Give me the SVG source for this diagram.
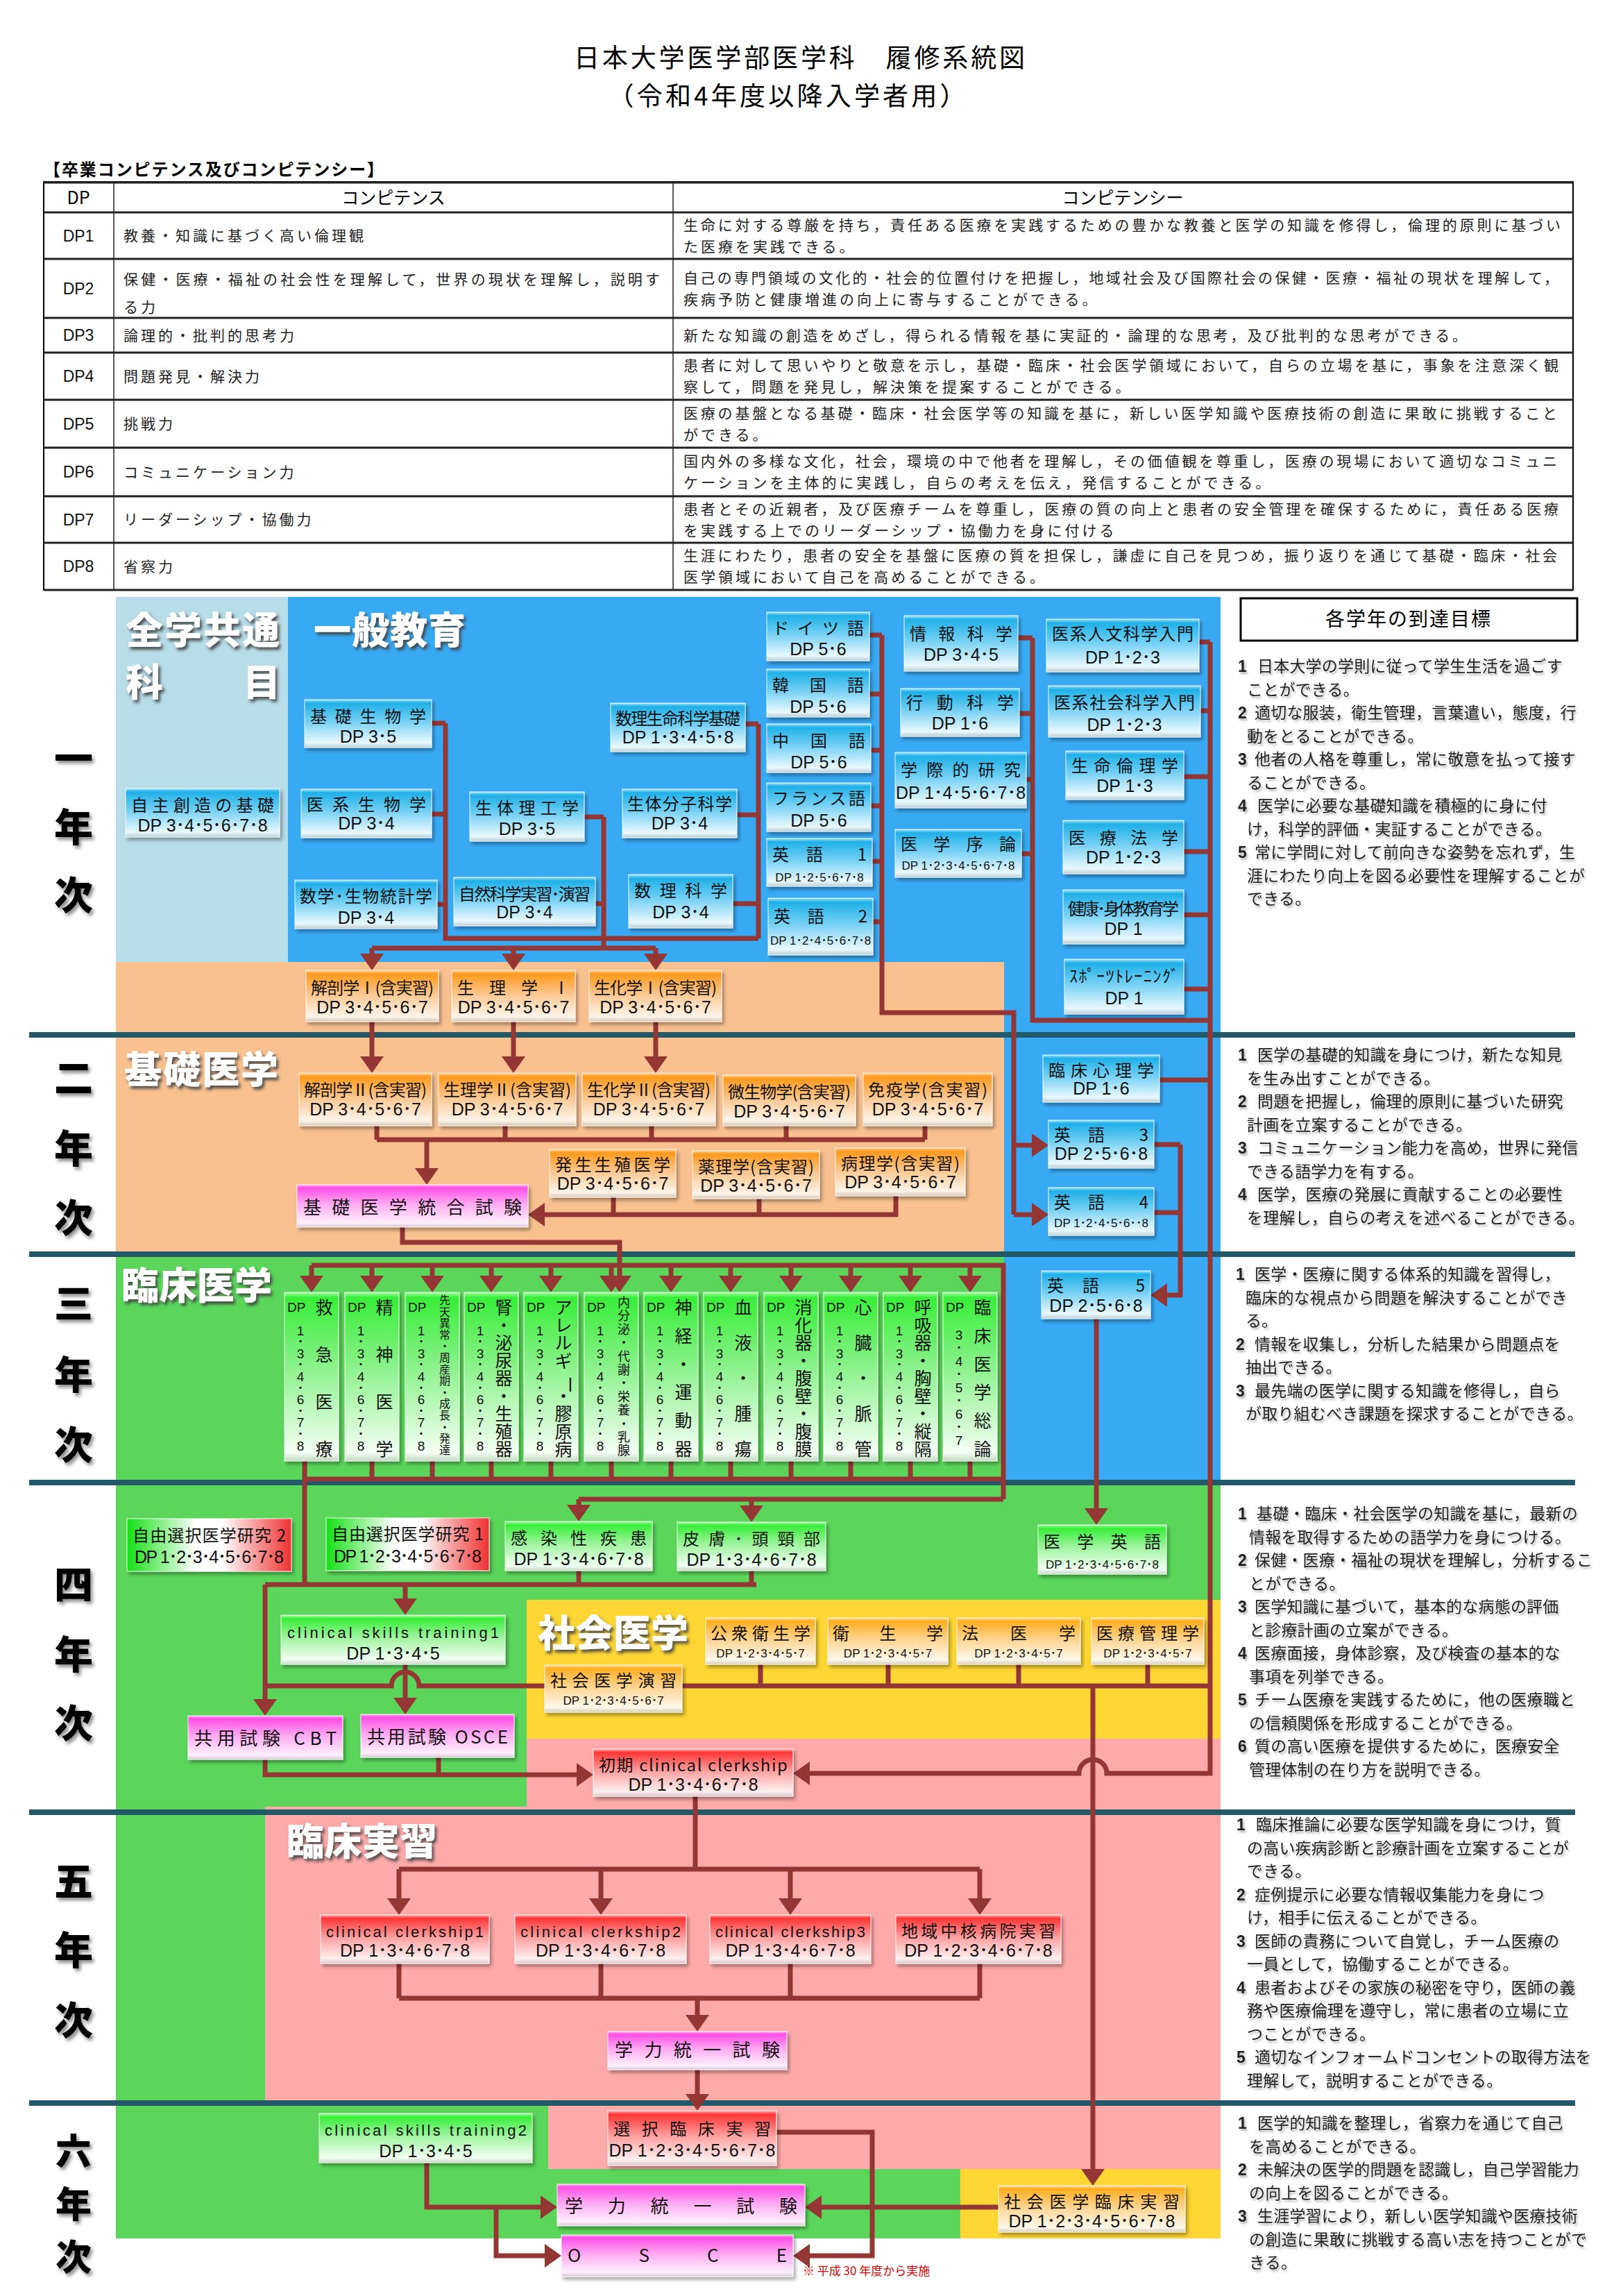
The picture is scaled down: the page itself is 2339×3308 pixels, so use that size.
<svg xmlns="http://www.w3.org/2000/svg" width="2339" height="3308" viewBox="0 0 2339 3308">
<defs>
<style>
.jp{font-family:"Noto Sans CJK JP",sans-serif}
.ttl{font-family:"Noto Sans CJK JP",sans-serif;font-size:37px;text-anchor:middle;fill:#000}
.tb{font-family:"Noto Sans CJK JP",sans-serif;font-size:21px;letter-spacing:4px;fill:#222}
.th{font-family:"Noto Sans CJK JP",sans-serif;font-size:25px;text-anchor:middle;fill:#000}
.tdp{font-family:"Liberation Sans",sans-serif;font-size:23px;text-anchor:middle;fill:#111}
.nm{font-family:"Noto Sans CJK JP",sans-serif;font-size:24px;text-anchor:middle;fill:#111}
.en{font-family:"Liberation Sans",sans-serif;font-size:22px;text-anchor:middle;fill:#111}
.dp{font-family:"Liberation Sans","Noto Sans CJK JP",sans-serif;font-size:25px;text-anchor:middle;fill:#111}
.dps{font-size:17px}
.ex{font-family:"Noto Sans CJK JP",sans-serif;font-size:26px;text-anchor:middle;fill:#111}
.nb{stroke:#fff;stroke-opacity:.6;stroke-width:1.5;filter:url(#sh)}
.bl{fill:url(#gB)}.or{fill:url(#gO)}.pk{fill:url(#gP)}.gr{fill:url(#gG)}.gt{fill:url(#gGT)}.rd{fill:url(#gR)}.ye{fill:url(#gY)}.fl{fill:url(#gF)}
.dpv{font-family:"Liberation Sans",sans-serif;font-size:19px;fill:#111}
.vn{font-family:"Liberation Sans","Noto Sans CJK JP",sans-serif;font-size:19px;text-anchor:middle;dominant-baseline:central;fill:#111}
.vc{font-family:"Noto Sans CJK JP",sans-serif;font-size:25px;text-anchor:middle;dominant-baseline:central;fill:#111}
.vs{font-size:16px}.vm{font-size:18px}
.yr{font-family:"Noto Sans CJK JP",sans-serif;font-weight:900;font-size:56px;text-anchor:middle;dominant-baseline:central;fill:#000;filter:url(#ysh)}
.y6{font-size:52px}
.sec{font-family:"Noto Sans CJK JP",sans-serif;font-weight:900;font-size:54px;fill:#fff;filter:url(#tsh)}
.c{fill:none;stroke:#943634;stroke-width:7}
.a{marker-end:url(#ar)}
.gl{font-family:"Noto Sans CJK JP",sans-serif;font-size:23px;letter-spacing:.2px;fill:#222}
.gn{font-family:"Liberation Sans",sans-serif;font-weight:bold;font-size:23px}
</style>
<linearGradient id="gB" x1="0" y1="0" x2="0" y2="1"><stop offset="0" stop-color="#9fe3fa"/><stop offset="0.07" stop-color="#1fb0e8"/><stop offset="0.45" stop-color="#74d0f4"/><stop offset="0.9" stop-color="#eaf9ff"/><stop offset="1" stop-color="#b9ccd4"/></linearGradient>
<linearGradient id="gO" x1="0" y1="0" x2="0" y2="1"><stop offset="0" stop-color="#ffd199"/><stop offset="0.07" stop-color="#ff9a1c"/><stop offset="0.45" stop-color="#fbc58c"/><stop offset="0.9" stop-color="#fff5ea"/><stop offset="1" stop-color="#d6c6b6"/></linearGradient>
<linearGradient id="gP" x1="0" y1="0" x2="0" y2="1"><stop offset="0" stop-color="#ffa8f4"/><stop offset="0.07" stop-color="#ff4fe6"/><stop offset="0.45" stop-color="#ffa9f2"/><stop offset="0.9" stop-color="#fff0fd"/><stop offset="1" stop-color="#d8c4d4"/></linearGradient>
<linearGradient id="gG" x1="0" y1="0" x2="0" y2="1"><stop offset="0" stop-color="#a8ffa8"/><stop offset="0.07" stop-color="#38ee38"/><stop offset="0.45" stop-color="#9ef49e"/><stop offset="0.9" stop-color="#f2fff2"/><stop offset="1" stop-color="#c4d8c4"/></linearGradient>
<linearGradient id="gGT" x1="0" y1="0" x2="0" y2="1"><stop offset="0" stop-color="#a8ffa8"/><stop offset="0.03" stop-color="#38ee38"/><stop offset="0.35" stop-color="#78f078"/><stop offset="0.95" stop-color="#f4fff4"/><stop offset="1" stop-color="#c4d8c4"/></linearGradient>
<linearGradient id="gR" x1="0" y1="0" x2="0" y2="1"><stop offset="0" stop-color="#ffaaaa"/><stop offset="0.07" stop-color="#ff3535"/><stop offset="0.45" stop-color="#ff9d9d"/><stop offset="0.9" stop-color="#fff0f0"/><stop offset="1" stop-color="#d8c4c4"/></linearGradient>
<linearGradient id="gY" x1="0" y1="0" x2="0" y2="1"><stop offset="0" stop-color="#ffe0a0"/><stop offset="0.07" stop-color="#ffae1e"/><stop offset="0.45" stop-color="#ffd38e"/><stop offset="0.9" stop-color="#fff9ec"/><stop offset="1" stop-color="#d8ccb8"/></linearGradient>
<linearGradient id="gF" x1="0" y1="0" x2="1" y2="0"><stop offset="0" stop-color="#14e014"/><stop offset="0.42" stop-color="#ffffff"/><stop offset="0.58" stop-color="#ffffff"/><stop offset="1" stop-color="#f03030"/></linearGradient>
<filter id="sh" x="-5%" y="-5%" width="115%" height="125%"><feDropShadow dx="3" dy="4" stdDeviation="2.5" flood-color="#000" flood-opacity="0.35"/></filter>
<filter id="tsh" x="-5%" y="-10%" width="115%" height="130%"><feDropShadow dx="3" dy="4" stdDeviation="2" flood-color="#404040" flood-opacity="0.9"/></filter>
<filter id="ysh" x="-10%" y="-10%" width="130%" height="130%"><feDropShadow dx="3" dy="4" stdDeviation="2.5" flood-color="#000" flood-opacity="0.45"/></filter>
<filter id="gsh" x="-2%" y="-5%" width="105%" height="115%"><feDropShadow dx="2" dy="3" stdDeviation="1.5" flood-color="#000" flood-opacity="0.3"/></filter>
<marker id="ar" markerUnits="userSpaceOnUse" markerWidth="24" markerHeight="34" viewBox="0 0 24 34" refX="14" refY="17" orient="auto"><path d="M0,0 L24,17 L0,34 Z" fill="#943634"/></marker>
</defs>
<rect width="2339" height="3308" fill="#fff"/>

<g id="title">
<text class="ttl" x="1152" y="97" textLength="650">日本大学医学部医学科　履修系統図</text>
<text class="ttl" x="1134" y="152" textLength="515">（令和4年度以降入学者用）</text>
<text class="jp" x="63" y="253" font-size="24" font-weight="bold" textLength="490">【卒業コンピテンス及びコンピテンシー】</text>
</g>

<g id="table">
<rect x="63" y="262" width="2204" height="588" fill="none" stroke="#000" stroke-width="2"/>
<g stroke="#222" stroke-width="3">
<line x1="63" y1="263" x2="2267" y2="263"/>
<line x1="63" y1="306" x2="2267" y2="306"/>
<line x1="63" y1="373" x2="2267" y2="373"/>
<line x1="63" y1="458" x2="2267" y2="458"/>
<line x1="63" y1="508" x2="2267" y2="508"/>
<line x1="63" y1="576" x2="2267" y2="576"/>
<line x1="63" y1="645" x2="2267" y2="645"/>
<line x1="63" y1="715" x2="2267" y2="715"/>
<line x1="63" y1="782" x2="2267" y2="782"/>
<line x1="63" y1="850" x2="2267" y2="850"/>
</g>
<g stroke="#222" stroke-width="1.5">
<line x1="164" y1="262" x2="164" y2="850"/>
<line x1="970" y1="262" x2="970" y2="850"/>
</g>
<text class="th" x="113" y="294">DP</text>
<text class="th" x="567" y="294">コンピテンス</text>
<text class="th" x="1618" y="294">コンピテンシー</text>
<text class="tdp" x="113" y="348">DP1</text>
<text class="tdp" x="113" y="424">DP2</text>
<text class="tdp" x="113" y="491">DP3</text>
<text class="tdp" x="113" y="550">DP4</text>
<text class="tdp" x="113" y="619">DP5</text>
<text class="tdp" x="113" y="688">DP6</text>
<text class="tdp" x="113" y="757">DP7</text>
<text class="tdp" x="113" y="824">DP8</text>
<text class="tb" x="178" y="347">教養・知識に基づく高い倫理観</text>
<text class="tb" x="178" y="410" textLength="777">保健・医療・福祉の社会性を理解して，世界の現状を理解し，説明す</text>
<text class="tb" x="178" y="450">る力</text>
<text class="tb" x="178" y="490.5">論理的・批判的思考力</text>
<text class="tb" x="178" y="549.5">問題発見・解決力</text>
<text class="tb" x="178" y="618">挑戦力</text>
<text class="tb" x="178" y="687.5">コミュニケーション力</text>
<text class="tb" x="178" y="756">リーダーシップ・協働力</text>
<text class="tb" x="178" y="823.5">省察力</text>
<text class="tb" x="985" y="331.5" textLength="1268">生命に対する尊厳を持ち，責任ある医療を実践するための豊かな教養と医学の知識を修得し，倫理的原則に基づい</text>
<text class="tb" x="985" y="362.5">た医療を実践できる。</text>
<text class="tb" x="985" y="407.5" textLength="1265">自己の専門領域の文化的・社会的位置付けを把握し，地域社会及び国際社会の保健・医療・福祉の現状を理解して，</text>
<text class="tb" x="985" y="438.5">疾病予防と健康増進の向上に寄与することができる。</text>
<text class="tb" x="985" y="490.5" textLength="1133">新たな知識の創造をめざし，得られる情報を基に実証的・論理的な思考，及び批判的な思考ができる。</text>
<text class="tb" x="985" y="534" textLength="1265">患者に対して思いやりと敬意を示し，基礎・臨床・社会医学領域において，自らの立場を基に，事象を注意深く観</text>
<text class="tb" x="985" y="565">察して，問題を発見し，解決策を提案することができる。</text>
<text class="tb" x="985" y="602.5" textLength="1263">医療の基盤となる基礎・臨床・社会医学等の知識を基に，新しい医学知識や医療技術の創造に果敢に挑戦すること</text>
<text class="tb" x="985" y="633.5">ができる。</text>
<text class="tb" x="985" y="672" textLength="1263">国内外の多様な文化，社会，環境の中で他者を理解し，その価値観を尊重し，医療の現場において適切なコミュニ</text>
<text class="tb" x="985" y="703">ケーションを主体的に実践し，自らの考えを伝え，発信することができる。</text>
<text class="tb" x="985" y="740.5" textLength="1265">患者とその近親者，及び医療チームを尊重し，医療の質の向上と患者の安全管理を確保するために，責任ある医療</text>
<text class="tb" x="985" y="771.5">を実践する上でのリーダーシップ・協働力を身に付ける</text>
<text class="tb" x="985" y="808" textLength="1263">生涯にわたり，患者の安全を基盤に医療の質を担保し，謙虚に自己を見つめ，振り返りを通じて基礎・臨床・社会</text>
<text class="tb" x="985" y="839">医学領域において自己を高めることができる。</text>
</g>

<g id="backgrounds">
<rect x="167" y="1807" width="1592" height="1418" fill="#5bd65b"/>
<rect x="415" y="860" width="1344" height="526" fill="#38aaf4"/>
<rect x="1447" y="1386" width="312" height="751" fill="#38aaf4"/>
<rect x="167" y="860" width="248" height="526" fill="#b7dde8"/>
<rect x="167" y="1386" width="1280" height="421" fill="#f9c190"/>
<rect x="759" y="2305" width="1000" height="200" fill="#ffd633"/>
<rect x="759" y="2505" width="1000" height="98" fill="#ffaaaa"/>
<rect x="382" y="2603" width="1377" height="428" fill="#ffaaaa"/>
<rect x="790" y="3031" width="969" height="94" fill="#ffaaaa"/>
<rect x="1384" y="3125" width="375" height="100" fill="#ffd633"/>
</g>

<g id="year-lines" stroke="#215968" stroke-width="8">
<line x1="42" y1="1491" x2="2270" y2="1491"/>
<line x1="42" y1="1807" x2="2270" y2="1807"/>
<line x1="42" y1="2136" x2="2270" y2="2136"/>
<line x1="42" y1="2611" x2="2270" y2="2611"/>
<line x1="42" y1="3030" x2="2270" y2="3030"/>
</g>

<g id="year-labels">
<text class="yr" x="106" y="1088">一</text><text class="yr" x="106" y="1187">年</text><text class="yr" x="106" y="1285">次</text>
<text class="yr" x="106" y="1548">二</text><text class="yr" x="106" y="1650">年</text><text class="yr" x="106" y="1750">次</text>
<text class="yr" x="106" y="1873">三</text><text class="yr" x="106" y="1976">年</text><text class="yr" x="106" y="2077">次</text>
<text class="yr" x="106" y="2278">四</text><text class="yr" x="106" y="2379">年</text><text class="yr" x="106" y="2478">次</text>
<text class="yr" x="106" y="2706">五</text><text class="yr" x="106" y="2805">年</text><text class="yr" x="106" y="2906">次</text>
<text class="yr y6" x="106" y="3096">六</text><text class="yr y6" x="106" y="3172">年</text><text class="yr y6" x="106" y="3248">次</text>
</g>

<g id="section-labels">
<text class="sec" x="181" y="928" textLength="222">全学共通</text>
<text class="sec" x="181" y="1003">科</text>
<text class="sec" x="350" y="1003">目</text>
<text class="sec" x="452" y="928" textLength="219">一般教育</text>
<text class="sec" x="179" y="1561" textLength="222">基礎医学</text>
<text class="sec" x="175" y="1872" textLength="217">臨床医学</text>
<text class="sec" x="775" y="2373" textLength="217">社会医学</text>
<text class="sec" x="413" y="2673" textLength="217">臨床実習</text>
</g>

<g id="connectors" class="c">
<path d="M622,1042H642M622,1173H642M630,1303H642M642,1042V1352H1093"/>
<path d="M1074,1043H1093M1062,1174H1093M1056,1302H1093M1093,1043V1352"/>
<path d="M842,1177H870M858,1302H870M870,1177V1366M536,1366H945"/>
<path class="a" d="M536,1366V1388"/>
<path class="a" d="M740,1366V1388"/>
<path class="a" d="M945,1366V1388"/>
<path d="M1253,915H1271M1253,1000H1271M1255,1081H1271M1255,1161H1271M1257,1241H1271M1258,1328H1271M1271,915V1459H1461V1750"/>
<path class="a" d="M1461,1650H1501"/>
<path class="a" d="M1461,1750H1501"/>
<path d="M1467,919H1488M1469,1028H1488M1479,1123H1488M1472,1230H1488M1488,919V1470H1744"/>
<path d="M1728,925H1744M1730,1024H1744M1706,1119H1744M1706,1227H1744M1706,1318H1744M1706,1425H1744M1671,1556H1744"/>
<path class="a" d="M1744,925V2555H1595A20,20 0 0 0 1555,2555H1153"/>
<path d="M1663,1649H1701M1663,1747H1701"/>
<path class="a" d="M1701,1649V1866H1668"/>
<path class="a" d="M1580,1900V2187"/>
<path class="a" d="M536,1472V1536"/>
<path class="a" d="M740,1472V1536"/>
<path class="a" d="M945,1472V1536"/>
<path d="M543,1622V1642M728,1622V1642M939,1622V1642M1133,1622V1642M1333,1622V1642M543,1642H1333"/>
<path class="a" d="M615,1642V1697"/>
<path d="M884,1725V1750M1094,1727V1750"/>
<path class="a" d="M1291,1723V1750H771"/>
<path class="a" d="M580,1768V1790H893V1852"/>
<path d="M449,1823H1446V2160"/>
<path class="a" d="M449,1823V1852"/><path class="a" d="M536,1823V1852"/><path class="a" d="M623,1823V1852"/><path class="a" d="M708,1823V1852"/><path class="a" d="M794,1823V1852"/><path class="a" d="M881,1823V1852"/><path class="a" d="M967,1823V1852"/><path class="a" d="M1053,1823V1852"/><path class="a" d="M1140,1823V1852"/><path class="a" d="M1226,1823V1852"/><path class="a" d="M1312,1823V1852"/><path class="a" d="M1398,1823V1852"/>
<path d="M439,2105V2283M536,2105V2131M623,2105V2131M708,2105V2131M794,2105V2131M881,2105V2131M967,2105V2131M1053,2105V2131M1140,2105V2131M1226,2105V2131M1312,2105V2131M1398,2105V2131M439,2131H1446"/>
<path d="M834,2160H1446"/>
<path class="a" d="M834,2160V2182"/>
<path class="a" d="M1083,2160V2183"/>
<path d="M382,2283H1090M834,2263V2283M1083,2263V2283"/>
<path class="a" d="M382,2283V2462"/>
<path class="a" d="M584,2283V2317"/>
<path class="a" d="M584,2398V2460"/>
<path d="M382,2429H564A20,20 0 0 1 604,2429H1744M1096,2398V2429M1280,2398V2429M1468,2398V2429M1654,2398V2429"/>
<path class="a" d="M1575,2429V3139"/>
<path class="a" d="M382,2535V2557H845"/>
<path d="M632,2532V2557"/>
<path d="M1002,2588V2693M575,2693H1412"/>
<path class="a" d="M575,2693V2749"/><path class="a" d="M866,2693V2749"/><path class="a" d="M1139,2693V2749"/><path class="a" d="M1412,2693V2749"/>
<path d="M575,2829V2879M866,2829V2879M1139,2829V2879M1412,2829V2879M575,2879H1412"/>
<path class="a" d="M1005,2879V2917"/>
<path class="a" d="M1005,2982V3031"/>
<path class="a" d="M1119,3072H1257V3250H1153"/>
<path class="a" d="M1439,3180H1170"/>
<path class="a" d="M615,3116V3180H793"/>
<path class="a" d="M715,3180V3250H799"/>
</g>

<g id="nodes">
<g id="n-jishu"><rect class="nb bl" x="181" y="1136" width="222" height="70"/><text class="nm" x="292" y="1169" textLength="206">自主創造の基礎</text><text class="dp" x="292" y="1198">DP 3･4･5･6･7･8</text></g>
<g id="n-kisoseibutsu"><rect class="nb bl" x="439" y="1008" width="183" height="69"/><text class="nm" x="530.5" y="1041" textLength="167">基礎生物学</text><text class="dp" x="530.5" y="1070">DP 3･5</text></g>
<g id="n-ikeiseibutsu"><rect class="nb bl" x="434" y="1137" width="188" height="70"/><text class="nm" x="528" y="1168" textLength="172">医系生物学</text><text class="dp" x="528" y="1195">DP 3･4</text></g>
<g id="n-sugaku"><rect class="nb bl" x="425" y="1268" width="205" height="70"/><text class="nm" x="527.5" y="1300" textLength="191">数学･生物統計学</text><text class="dp" x="527.5" y="1331">DP 3･4</text></g>
<g id="n-seitairiko"><rect class="nb bl" x="677" y="1141" width="165" height="71"/><text class="nm" x="759.5" y="1173" textLength="149">生体理工学</text><text class="dp" x="759.5" y="1203">DP 3･5</text></g>
<g id="n-shizen"><rect class="nb bl" x="654" y="1264" width="204" height="70"/><text class="nm" x="756" y="1297" textLength="190">自然科学実習･演習</text><text class="dp" x="756" y="1323">DP 3･4</text></g>
<g id="n-suriseimei"><rect class="nb bl" x="880" y="1013" width="194" height="70"/><text class="nm" x="977" y="1044" textLength="180">数理生命科学基礎</text><text class="dp" x="977" y="1071">DP 1･3･4･5･8</text></g>
<g id="n-seitaibunshi"><rect class="nb bl" x="897" y="1137" width="165" height="70"/><text class="nm" x="979.5" y="1167" textLength="151">生体分子科学</text><text class="dp" x="979.5" y="1195">DP 3･4</text></g>
<g id="n-surikagaku"><rect class="nb bl" x="906" y="1260" width="150" height="77"/><text class="nm" x="981" y="1292" textLength="134">数理科学</text><text class="dp" x="981" y="1323">DP 3･4</text></g>
<g id="n-doitsu"><rect class="nb bl" x="1105" y="882" width="148" height="70"/><text class="nm" x="1179" y="914" textLength="132">ドイツ語</text><text class="dp" x="1179" y="944">DP 5･6</text></g>
<g id="n-kankoku"><rect class="nb bl" x="1105" y="964" width="148" height="69"/><text class="nm" x="1179" y="996" textLength="132">韓国語</text><text class="dp" x="1179" y="1027">DP 5･6</text></g>
<g id="n-chugoku"><rect class="nb bl" x="1105" y="1043" width="150" height="70"/><text class="nm" x="1180" y="1076" textLength="134">中国語</text><text class="dp" x="1180" y="1107">DP 5･6</text></g>
<g id="n-france"><rect class="nb bl" x="1105" y="1128" width="150" height="70"/><text class="nm" x="1180" y="1159" textLength="134">フランス語</text><text class="dp" x="1180" y="1191">DP 5･6</text></g>
<g id="n-eigo1"><rect class="nb bl" x="1105" y="1208" width="152" height="69"/><text class="nm" x="1181" y="1240" textLength="136">英　語　　1</text><text class="dp dps" x="1181" y="1270">DP 1･2･5･6･7･8</text></g>
<g id="n-eigo2"><rect class="nb bl" x="1107" y="1294" width="151" height="82"/><text class="nm" x="1182.5" y="1329" textLength="135">英　語　　2</text><text class="dp dps" x="1182.5" y="1361">DP 1･2･4･5･6･7･8</text></g>
<g id="n-joho"><rect class="nb bl" x="1303" y="887" width="164" height="80"/><text class="nm" x="1385" y="922" textLength="148">情報科学</text><text class="dp" x="1385" y="952">DP 3･4･5</text></g>
<g id="n-kodo"><rect class="nb bl" x="1298" y="992" width="171" height="69"/><text class="nm" x="1383.5" y="1021" textLength="155">行動科学</text><text class="dp" x="1383.5" y="1051">DP 1･6</text></g>
<g id="n-gakusai"><rect class="nb bl" x="1290" y="1084" width="189" height="80"/><text class="nm" x="1384.5" y="1118" textLength="173">学際的研究</text><text class="dp" x="1384.5" y="1151">DP 1･4･5･6･7･8</text></g>
<g id="n-joron"><rect class="nb bl" x="1290" y="1195" width="182" height="69"/><text class="nm" x="1381" y="1225" textLength="166">医学序論</text><text class="dp dps" x="1381" y="1253">DP 1･2･3･4･5･6･7･8</text></g>
<g id="n-jinbun"><rect class="nb bl" x="1508" y="892" width="220" height="76"/><text class="nm" x="1618" y="922" textLength="204">医系人文科学入門</text><text class="dp" x="1618" y="956">DP 1･2･3</text></g>
<g id="n-shakai"><rect class="nb bl" x="1511" y="988" width="219" height="74"/><text class="nm" x="1620.5" y="1021" textLength="203">医系社会科学入門</text><text class="dp" x="1620.5" y="1053">DP 1･2･3</text></g>
<g id="n-rinri"><rect class="nb bl" x="1536" y="1082" width="170" height="70"/><text class="nm" x="1621" y="1112" textLength="154">生命倫理学</text><text class="dp" x="1621" y="1141">DP 1･3</text></g>
<g id="n-hogaku"><rect class="nb bl" x="1532" y="1182" width="174" height="77"/><text class="nm" x="1619" y="1216" textLength="158">医療法学</text><text class="dp" x="1619" y="1244">DP 1･2･3</text></g>
<g id="n-kenko"><rect class="nb bl" x="1532" y="1282" width="174" height="78"/><text class="nm" x="1619" y="1318" textLength="160">健康･身体教育学</text><text class="dp" x="1619" y="1347">DP 1</text></g>
<g id="n-sports"><rect class="nb bl" x="1534" y="1382" width="172" height="79"/><text class="nm" x="1620" y="1415" textLength="158">ｽﾎﾟｰﾂﾄﾚｰﾆﾝｸﾞ</text><text class="dp" x="1620" y="1447">DP 1</text></g>
<g id="n-kaibo1"><rect class="nb or" x="441" y="1398" width="191" height="74"/><text class="nm" x="536.5" y="1432" textLength="177">解剖学Ⅰ(含実習)</text><text class="dp" x="536.5" y="1460">DP 3･4･5･6･7</text></g>
<g id="n-seiri1"><rect class="nb or" x="651" y="1398" width="178" height="74"/><text class="nm" x="740" y="1432" textLength="162">生理学Ⅰ</text><text class="dp" x="740" y="1460">DP 3･4･5･6･7</text></g>
<g id="n-seika1"><rect class="nb or" x="849" y="1398" width="191" height="74"/><text class="nm" x="944.5" y="1432" textLength="177">生化学Ⅰ(含実習)</text><text class="dp" x="944.5" y="1460">DP 3･4･5･6･7</text></g>
<g id="n-kaibo2"><rect class="nb or" x="431" y="1546" width="191" height="76"/><text class="nm" x="526.5" y="1579" textLength="177">解剖学Ⅱ(含実習)</text><text class="dp" x="526.5" y="1607">DP 3･4･5･6･7</text></g>
<g id="n-seiri2"><rect class="nb or" x="632" y="1546" width="198" height="76"/><text class="nm" x="731" y="1579" textLength="184">生理学Ⅱ(含実習)</text><text class="dp" x="731" y="1607">DP 3･4･5･6･7</text></g>
<g id="n-seika2"><rect class="nb or" x="839" y="1546" width="192" height="76"/><text class="nm" x="935" y="1579" textLength="178">生化学Ⅱ(含実習)</text><text class="dp" x="935" y="1607">DP 3･4･5･6･7</text></g>
<g id="n-biseibutsu"><rect class="nb or" x="1042" y="1549" width="191" height="73"/><text class="nm" x="1137.5" y="1582" textLength="177">微生物学(含実習)</text><text class="dp" x="1137.5" y="1610">DP 3･4･5･6･7</text></g>
<g id="n-meneki"><rect class="nb or" x="1244" y="1546" width="186" height="76"/><text class="nm" x="1337" y="1579" textLength="172">免疫学(含実習)</text><text class="dp" x="1337" y="1607">DP 3･4･5･6･7</text></g>
<g id="n-hassei"><rect class="nb or" x="792" y="1656" width="182" height="69"/><text class="nm" x="883" y="1687" textLength="166">発生生殖医学</text><text class="dp" x="883" y="1714">DP 3･4･5･6･7</text></g>
<g id="n-yakuri"><rect class="nb or" x="998" y="1658" width="183" height="69"/><text class="nm" x="1089.5" y="1690" textLength="167">薬理学(含実習)</text><text class="dp" x="1089.5" y="1717">DP 3･4･5･6･7</text></g>
<g id="n-byori"><rect class="nb or" x="1204" y="1654" width="187" height="69"/><text class="nm" x="1297.5" y="1685" textLength="171">病理学(含実習)</text><text class="dp" x="1297.5" y="1712">DP 3･4･5･6･7</text></g>
<g id="n-kisotogo"><rect class="nb pk" x="428" y="1707" width="333" height="61"/><text class="ex" x="594.5" y="1749" textLength="315">基礎医学統合試験</text></g>
<g id="n-rinshoshinri"><rect class="nb bl" x="1503" y="1520" width="168" height="68"/><text class="nm" x="1587" y="1551" textLength="152">臨床心理学</text><text class="dp" x="1587" y="1577">DP 1･6</text></g>
<g id="n-eigo3"><rect class="nb bl" x="1511" y="1614" width="152" height="69"/><text class="nm" x="1587" y="1644" textLength="136">英　語　　3</text><text class="dp" x="1587" y="1671">DP 2･5･6･8</text></g>
<g id="n-eigo4"><rect class="nb bl" x="1511" y="1711" width="152" height="69"/><text class="nm" x="1587" y="1741" textLength="136">英　語　　4</text><text class="dp dps" x="1587" y="1768">DP 1･2･4･5･6･･8</text></g>
<g id="n-eigo5"><rect class="nb bl" x="1501" y="1831" width="157" height="69"/><text class="nm" x="1579.5" y="1861" textLength="141">英　語　　5</text><text class="dp" x="1579.5" y="1890">DP 2･5･6･8</text></g>

<g id="n-kyukyu" transform="translate(410 0)"><rect class="nb gt" x="0" y="1862" width="78" height="243"/><text class="dpv" x="4" y="1890">DP</text><text class="vn" x="23 23 23 23 23 23 23 23 23 23 23" y="1917 1933.6 1950.2 1966.8 1983.4 2000 2016.6 2033.2 2049.8 2066.4 2083">1･3･4･6･7･8</text><text class="vc" x="57 57 57 57" y="1882 1950 2018 2086">救急医療</text></g>
<g id="n-seishin" transform="translate(497 0)"><rect class="nb gt" x="0" y="1862" width="78" height="243"/><text class="dpv" x="4" y="1890">DP</text><text class="vn" x="23 23 23 23 23 23 23 23 23 23 23" y="1917 1933.6 1950.2 1966.8 1983.4 2000 2016.6 2033.2 2049.8 2066.4 2083">1･3･4･6･7･8</text><text class="vc" x="57 57 57 57" y="1882 1950 2018 2086">精神医学</text></g>
<g id="n-sentenijo" transform="translate(584 0)"><rect class="nb gt" x="0" y="1862" width="78" height="243"/><text class="dpv" x="4" y="1890">DP</text><text class="vn" x="23 23 23 23 23 23 23 23 23 23 23" y="1917 1933.6 1950.2 1966.8 1983.4 2000 2016.6 2033.2 2049.8 2066.4 2083">1･3･4･6･7･8</text><text class="vc vs" x="57 57 57 57 57 57 57 57 57 57 57 57 57 57" y="1872 1888.6 1905.2 1921.8 1938.4 1955 1971.6 1988.2 2004.8 2021.4 2038 2054.6 2071.2 2087.8">先天異常・周産期・成長・発達</text></g>
<g id="n-jin" transform="translate(669 0)"><rect class="nb gt" x="0" y="1862" width="78" height="243"/><text class="dpv" x="4" y="1890">DP</text><text class="vn" x="23 23 23 23 23 23 23 23 23 23 23" y="1917 1933.6 1950.2 1966.8 1983.4 2000 2016.6 2033.2 2049.8 2066.4 2083">1･3･4･6･7･8</text><text class="vc" x="57 57 57 57 57 57 57 57 57" y="1882 1907.5 1933 1958.5 1984 2009.5 2035 2060.5 2086">腎・泌尿器・生殖器</text></g>
<g id="n-allergy" transform="translate(755 0)"><rect class="nb gt" x="0" y="1862" width="78" height="243"/><text class="dpv" x="4" y="1890">DP</text><text class="vn" x="23 23 23 23 23 23 23 23 23 23 23" y="1917 1933.6 1950.2 1966.8 1983.4 2000 2016.6 2033.2 2049.8 2066.4 2083">1･3･4･6･7･8</text><text class="vc" x="57 57 57 57 69.5 57 57 57 57" y="1882 1907.5 1933 1958.5 1971.5 2009.5 2035 2060.5 2086" rotate="0 0 0 0 90 0 0 0 0">アレルギー・膠原病</text></g>
<g id="n-naibunpi" transform="translate(842 0)"><rect class="nb gt" x="0" y="1862" width="78" height="243"/><text class="dpv" x="4" y="1890">DP</text><text class="vn" x="23 23 23 23 23 23 23 23 23 23 23" y="1917 1933.6 1950.2 1966.8 1983.4 2000 2016.6 2033.2 2049.8 2066.4 2083">1･3･4･6･7･8</text><text class="vc vm" x="57 57 57 57 57 57 57 57 57 57 57 57" y="1875 1894.4 1913.8 1933.2 1952.6 1972 1991.4 2010.8 2030.2 2049.6 2069 2088.4">内分泌・代謝・栄養・乳腺</text></g>
<g id="n-shinkei" transform="translate(928 0)"><rect class="nb gt" x="0" y="1862" width="78" height="243"/><text class="dpv" x="4" y="1890">DP</text><text class="vn" x="23 23 23 23 23 23 23 23 23 23 23" y="1917 1933.6 1950.2 1966.8 1983.4 2000 2016.6 2033.2 2049.8 2066.4 2083">1･3･4･6･7･8</text><text class="vc" x="57 57 57 57 57 57" y="1882 1922.8 1963.6 2004.4 2045.2 2086">神経・運動器</text></g>
<g id="n-ketsueki" transform="translate(1014 0)"><rect class="nb gt" x="0" y="1862" width="78" height="243"/><text class="dpv" x="4" y="1890">DP</text><text class="vn" x="23 23 23 23 23 23 23 23 23 23 23" y="1917 1933.6 1950.2 1966.8 1983.4 2000 2016.6 2033.2 2049.8 2066.4 2083">1･3･4･6･7･8</text><text class="vc" x="57 57 57 57 57" y="1882 1933 1984 2035 2086">血液・腫瘍</text></g>
<g id="n-shokaki" transform="translate(1101 0)"><rect class="nb gt" x="0" y="1862" width="78" height="243"/><text class="dpv" x="4" y="1890">DP</text><text class="vn" x="23 23 23 23 23 23 23 23 23 23 23" y="1917 1933.6 1950.2 1966.8 1983.4 2000 2016.6 2033.2 2049.8 2066.4 2083">1･3･4･6･7･8</text><text class="vc" x="57 57 57 57 57 57 57 57 57" y="1882 1907.5 1933 1958.5 1984 2009.5 2035 2060.5 2086">消化器・腹壁・腹膜</text></g>
<g id="n-shinzo" transform="translate(1187 0)"><rect class="nb gt" x="0" y="1862" width="78" height="243"/><text class="dpv" x="4" y="1890">DP</text><text class="vn" x="23 23 23 23 23 23 23 23 23 23 23" y="1917 1933.6 1950.2 1966.8 1983.4 2000 2016.6 2033.2 2049.8 2066.4 2083">1･3･4･6･7･8</text><text class="vc" x="57 57 57 57 57" y="1882 1933 1984 2035 2086">心臓・脈管</text></g>
<g id="n-kokyuki" transform="translate(1273 0)"><rect class="nb gt" x="0" y="1862" width="78" height="243"/><text class="dpv" x="4" y="1890">DP</text><text class="vn" x="23 23 23 23 23 23 23 23 23 23 23" y="1917 1933.6 1950.2 1966.8 1983.4 2000 2016.6 2033.2 2049.8 2066.4 2083">1･3･4･6･7･8</text><text class="vc" x="57 57 57 57 57 57 57 57 57" y="1882 1907.5 1933 1958.5 1984 2009.5 2035 2060.5 2086">呼吸器・胸壁・縦隔</text></g>
<g id="n-soron" transform="translate(1359 0)"><rect class="nb gt" x="0" y="1862" width="78" height="243"/><text class="dpv" x="4" y="1890">DP</text><text class="vn" x="23 23 23 23 23 23 23 23 23" y="1923 1942 1961 1980 1999 2018 2037 2056 2075">3･4･5･6･7</text><text class="vc" x="57 57 57 57 57 57" y="1882 1922.8 1963.6 2004.4 2045.2 2086">臨床医学総論</text></g>

<g id="n-jiyu2"><rect class="nb fl" x="183" y="2188" width="237" height="76"/><text class="nm" x="301.5" y="2221" textLength="221">自由選択医学研究 2</text><text class="dp" x="301.5" y="2252" textLength="215">DP 1･2･3･4･5･6･7･8</text></g>
<g id="n-jiyu1"><rect class="nb fl" x="470" y="2187" width="235" height="76"/><text class="nm" x="587.5" y="2219" textLength="219">自由選択医学研究 1</text><text class="dp" x="587.5" y="2251" textLength="213">DP 1･2･3･4･5･6･7･8</text></g>
<g id="n-kansen"><rect class="nb gr" x="728" y="2192" width="212" height="71"/><text class="nm" x="834" y="2225" textLength="196">感染性疾患</text><text class="dp" x="834" y="2255">DP 1･3･4･6･7･8</text></g>
<g id="n-hifu"><rect class="nb gr" x="976" y="2193" width="214" height="70"/><text class="nm" x="1083" y="2226" textLength="198">皮膚･頭頸部</text><text class="dp" x="1083" y="2256">DP 1･3･4･6･7･8</text></g>
<g id="n-igakueigo"><rect class="nb gr" x="1496" y="2197" width="185" height="71"/><text class="nm" x="1588.5" y="2230" textLength="169">医学英語</text><text class="dp dps" x="1588.5" y="2260">DP 1･2･3･4･5･6･7･8</text></g>
<g id="n-cst1"><rect class="nb gr" x="405" y="2327" width="323" height="71"/><text class="en" x="566.5" y="2360" textLength="305">clinical skills training1</text><text class="dp" x="566.5" y="2391">DP 1･3･4･5</text></g>
<g id="n-koshu"><rect class="nb ye" x="1017" y="2331" width="158" height="67"/><text class="nm" x="1096" y="2362" textLength="144">公衆衛生学</text><text class="dp dps" x="1096" y="2388">DP 1･2･3･4･5･7</text></g>
<g id="n-eisei"><rect class="nb ye" x="1193" y="2331" width="173" height="67"/><text class="nm" x="1279.5" y="2362" textLength="159">衛生学</text><text class="dp dps" x="1279.5" y="2388">DP 1･2･3･4･5･7</text></g>
<g id="n-hoi"><rect class="nb ye" x="1379" y="2331" width="178" height="67"/><text class="nm" x="1468" y="2362" textLength="164">法医学</text><text class="dp dps" x="1468" y="2388">DP 1･2･3･4･5･7</text></g>
<g id="n-iryokanri"><rect class="nb ye" x="1573" y="2331" width="162" height="67"/><text class="nm" x="1654" y="2362" textLength="148">医療管理学</text><text class="dp dps" x="1654" y="2388">DP 1･2･3･4･5･7</text></g>
<g id="n-shakaienshu"><rect class="nb ye" x="785" y="2399" width="198" height="68"/><text class="nm" x="884" y="2430" textLength="182">社会医学演習</text><text class="dp dps" x="884" y="2456">DP 1･2･3･4･5･6･7</text></g>
<g id="n-cbt"><rect class="nb pk" x="271" y="2472" width="223" height="63"/><text class="ex" x="382.5" y="2514" textLength="205">共用試験 CBT</text></g>
<g id="n-osce1"><rect class="nb pk" x="520" y="2470" width="221" height="62"/><text class="ex" x="630.5" y="2512" textLength="203">共用試験 OSCE</text></g>
<g id="n-shokicc"><rect class="nb rd" x="855" y="2520" width="288" height="68"/><text class="nm" x="999" y="2552" textLength="272">初期 clinical clerkship</text><text class="dp" x="999" y="2580">DP 1･3･4･6･7･8</text></g>

<g id="n-cc1"><rect class="nb rd" x="462" y="2759" width="243" height="70"/><text class="en" x="583.5" y="2791" textLength="227">clinical clerkship1</text><text class="dp" x="583.5" y="2819">DP 1･3･4･6･7･8</text></g>
<g id="n-cc2"><rect class="nb rd" x="742" y="2759" width="247" height="70"/><text class="en" x="865.5" y="2791" textLength="231">clinical clerkship2</text><text class="dp" x="865.5" y="2819">DP 1･3･4･6･7･8</text></g>
<g id="n-cc3"><rect class="nb rd" x="1023" y="2759" width="232" height="70"/><text class="en" x="1139" y="2791" textLength="216">clinical clerkship3</text><text class="dp" x="1139" y="2819">DP 1･3･4･6･7･8</text></g>
<g id="n-chiiki"><rect class="nb rd" x="1291" y="2759" width="238" height="70"/><text class="nm" x="1410" y="2791" textLength="222">地域中核病院実習</text><text class="dp" x="1410" y="2819">DP 1･2･3･4･6･7･8</text></g>
<g id="n-gakuryoku5"><rect class="nb pk" x="876" y="2927" width="258" height="55"/><text class="ex" x="1005" y="2963" textLength="238">学力統一試験</text></g>
<g id="n-cst2"><rect class="nb gr" x="460" y="3045" width="307" height="71"/><text class="en" x="613.5" y="3077" textLength="291">clinical skills training2</text><text class="dp" x="613.5" y="3108">DP 1･3･4･5</text></g>
<g id="n-sentaku"><rect class="nb rd" x="876" y="3041" width="243" height="79"/><text class="nm" x="997.5" y="3076" textLength="227">選択臨床実習</text><text class="dp" x="997.5" y="3107">DP 1･2･3･4･5･6･7･8</text></g>
<g id="n-gakuryoku6"><rect class="nb pk" x="803" y="3147" width="357" height="60"/><text class="ex" x="981.5" y="3188" font-size="30" textLength="335">学力統一試験</text></g>
<g id="n-osce6"><rect class="nb pk" x="809" y="3220" width="334" height="60"/><text class="ex" x="976" y="3259" textLength="316">O S C E</text></g>
<g id="n-shakairinsho"><rect class="nb ye" x="1439" y="3149" width="269" height="67"/><text class="nm" x="1573.5" y="3181" textLength="253">社会医学臨床実習</text><text class="dp" x="1573.5" y="3209">DP 1･2･3･4･5･6･7･8</text></g>
<text class="jp" x="1157" y="3278" font-size="17" fill="#e00000">※ 平成 30 年度から実施</text>
</g>

<g id="goals">
<rect x="1788" y="862" width="485" height="61" fill="#fff" stroke="#000" stroke-width="3"/>
<text class="jp" x="2030" y="902" font-size="28" text-anchor="middle" letter-spacing="2">各学年の到達目標</text>
<g class="gl" filter="url(#gsh)">
<text x="1784" y="968"><tspan class="gn">1</tspan><tspan x="1812">日本大学の学則に従って学生生活を過ごす</tspan></text>
<text x="1797" y="1001.5">ことができる。</text>
<text x="1784" y="1035"><tspan class="gn">2</tspan><tspan x="1808">適切な服装，衛生管理，言葉遣い，態度，行</tspan></text>
<text x="1797" y="1068.5">動をとることができる。</text>
<text x="1784" y="1102"><tspan class="gn">3</tspan><tspan x="1808">他者の人格を尊重し，常に敬意を払って接す</tspan></text>
<text x="1797" y="1135.5">ることができる。</text>
<text x="1784" y="1169"><tspan class="gn">4</tspan><tspan x="1812">医学に必要な基礎知識を積極的に身に付</tspan></text>
<text x="1797" y="1202.5">け，科学的評価・実証することができる。</text>
<text x="1784" y="1236"><tspan class="gn">5</tspan><tspan x="1808">常に学問に対して前向きな姿勢を忘れず，生</tspan></text>
<text x="1797" y="1269.5">涯にわたり向上を図る必要性を理解することが</text>
<text x="1797" y="1303">できる。</text>

<text x="1784" y="1528"><tspan class="gn">1</tspan><tspan x="1812">医学の基礎的知識を身につけ，新たな知見</tspan></text>
<text x="1797" y="1561.5">を生み出すことができる。</text>
<text x="1784" y="1595"><tspan class="gn">2</tspan><tspan x="1812">問題を把握し，倫理的原則に基づいた研究</tspan></text>
<text x="1797" y="1628.5">計画を立案することができる。</text>
<text x="1784" y="1662"><tspan class="gn">3</tspan><tspan x="1812">コミュニケーション能力を高め，世界に発信</tspan></text>
<text x="1797" y="1695.5">できる語学力を有する。</text>
<text x="1784" y="1729"><tspan class="gn">4</tspan><tspan x="1812">医学，医療の発展に貢献することの必要性</tspan></text>
<text x="1797" y="1762.5">を理解し，自らの考えを述べることができる。</text>

<text x="1781" y="1844"><tspan class="gn">1</tspan><tspan x="1808">医学・医療に関する体系的知識を習得し，</tspan></text>
<text x="1795" y="1877.5">臨床的な視点から問題を解決することができ</text>
<text x="1795" y="1911">る。</text>
<text x="1781" y="1944.5"><tspan class="gn">2</tspan><tspan x="1808">情報を収集し，分析した結果から問題点を</tspan></text>
<text x="1795" y="1978">抽出できる。</text>
<text x="1781" y="2011.5"><tspan class="gn">3</tspan><tspan x="1808">最先端の医学に関する知識を修得し，自ら</tspan></text>
<text x="1795" y="2045">が取り組むべき課題を探求することができる。</text>

<text x="1784" y="2189"><tspan class="gn">1</tspan><tspan x="1811">基礎・臨床・社会医学の知識を基に，最新の</tspan></text>
<text x="1800" y="2222.5">情報を取得するための語学力を身につける。</text>
<text x="1784" y="2256"><tspan class="gn">2</tspan><tspan x="1808">保健・医療・福祉の現状を理解し，分析するこ</tspan></text>
<text x="1800" y="2289.5">とができる。</text>
<text x="1784" y="2323"><tspan class="gn">3</tspan><tspan x="1808">医学知識に基づいて，基本的な病態の評価</tspan></text>
<text x="1800" y="2356.5">と診療計画の立案ができる。</text>
<text x="1784" y="2390"><tspan class="gn">4</tspan><tspan x="1808">医療面接，身体診察，及び検査の基本的な</tspan></text>
<text x="1800" y="2423.5">事項を列挙できる。</text>
<text x="1784" y="2457"><tspan class="gn">5</tspan><tspan x="1808">チーム医療を実践するために，他の医療職と</tspan></text>
<text x="1800" y="2490.5">の信頼関係を形成することができる。</text>
<text x="1784" y="2524"><tspan class="gn">6</tspan><tspan x="1808">質の高い医療を提供するために，医療安全</tspan></text>
<text x="1800" y="2557.5">管理体制の在り方を説明できる。</text>

<text x="1782" y="2637"><tspan class="gn">1</tspan><tspan x="1810">臨床推論に必要な医学知識を身につけ，質</tspan></text>
<text x="1797" y="2670.5">の高い疾病診断と診療計画を立案することが</text>
<text x="1797" y="2704">できる。</text>
<text x="1782" y="2737.5"><tspan class="gn">2</tspan><tspan x="1808">症例提示に必要な情報収集能力を身につ</tspan></text>
<text x="1797" y="2771">け，相手に伝えることができる。</text>
<text x="1782" y="2804.5"><tspan class="gn">3</tspan><tspan x="1808">医師の責務について自覚し，チーム医療の</tspan></text>
<text x="1797" y="2838">一員として，協働することができる。</text>
<text x="1782" y="2871.5"><tspan class="gn">4</tspan><tspan x="1808">患者およびその家族の秘密を守り，医師の義</tspan></text>
<text x="1797" y="2905">務や医療倫理を遵守し，常に患者の立場に立</text>
<text x="1797" y="2938.5">つことができる。</text>
<text x="1782" y="2972"><tspan class="gn">5</tspan><tspan x="1808">適切なインフォームドコンセントの取得方法を</tspan></text>
<text x="1797" y="3005.5">理解して，説明することができる。</text>

<text x="1784" y="3067"><tspan class="gn">1</tspan><tspan x="1812">医学的知識を整理し，省察力を通じて自己</tspan></text>
<text x="1800" y="3100.5">を高めることができる。</text>
<text x="1784" y="3134"><tspan class="gn">2</tspan><tspan x="1812">未解決の医学的問題を認識し，自己学習能力</tspan></text>
<text x="1800" y="3167.5">の向上を図ることができる。</text>
<text x="1784" y="3201"><tspan class="gn">3</tspan><tspan x="1812">生涯学習により，新しい医学知識や医療技術</tspan></text>
<text x="1800" y="3234.5">の創造に果敢に挑戦する高い志を持つことがで</text>
<text x="1800" y="3268">きる。</text>
</g>
</g>
</svg>
